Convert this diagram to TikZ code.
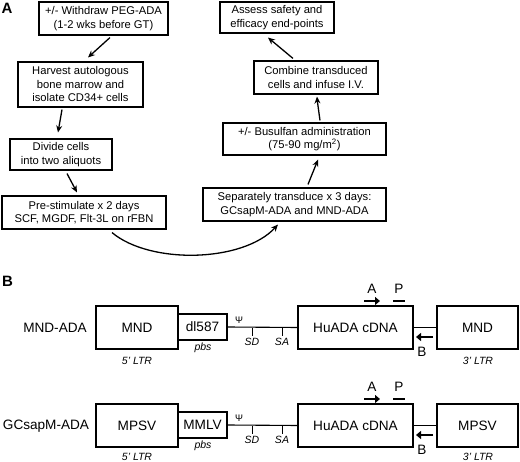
\documentclass[tikz,border=0pt]{standalone}
\usepackage{fontspec}
\setmainfont{Liberation Sans}
\usetikzlibrary{arrows.meta,calc}
\tikzset{
  box/.style={draw, line width=1.1pt, align=center, inner sep=0pt, font=\fontsize{11.2}{13.5}\selectfont},
  gbox/.style={draw, line width=1.1pt, inner sep=0pt, font=\fontsize{13.6}{16}\selectfont},
  flow/.style={line width=1.3pt, -{Stealth[length=7pt,width=6pt]}},
  dna/.style={line width=1.1pt},
  small/.style={font=\itshape\fontsize{10.5}{12}\selectfont, inner sep=0pt},
  primer/.style={line width=2.4pt, -{Triangle[length=5pt,width=8pt]}},
  lbl/.style={font=\fontsize{13.6}{16}\selectfont, inner sep=0pt},
  panel/.style={font=\bfseries\fontsize{15}{18}\selectfont, inner sep=0pt}
}
\begin{document}
\begin{tikzpicture}[x=1pt,y=-1pt]
\useasboundingbox (0,0) rectangle (520,462);
% Panel A
\node[panel] (pa) at (7,8) {A};
\node[box, minimum width=129pt, minimum height=33pt] (b1) at (103.5,18.5) {+/- Withdraw PEG-ADA\\(1-2 wks before GT)};
\node[box, minimum width=125pt, minimum height=45pt] (b2) at (80.5,84.5) {Harvest autologous\\bone marrow and\\isolate CD34+ cells};
\node[box, minimum width=102pt, minimum height=31pt] (b3) at (61,154.5) {Divide cells\\into two aliquots};
\node[box, minimum width=164pt, minimum height=33pt] (b4) at (84,212.5) {Pre-stimulate x 2 days\\SCF, MGDF, Flt-3L on rFBN};
\node[box, minimum width=183pt, minimum height=33pt] (b5) at (294.5,204.5) {Separately transduce x 3 days:\\GCsapM-ADA and MND-ADA};
\node[box, minimum width=163pt, minimum height=32pt] (b6) at (304.5,139) {+/- Busulfan administration\\(75-90 mg/m$^{\mathrm{2}}$)};
\node[box, minimum width=124pt, minimum height=33pt] (b7) at (316,77.5) {Combine transduced\\cells and infuse I.V.};
\node[box, minimum width=114pt, minimum height=31pt] (b8) at (277,17.5) {Assess safety and\\efficacy end-points};

\draw[flow] ([shift={(6.5,2)}]b1.south) -- ([shift={(7.5,-4)}]b2.north);
\draw[flow] ([shift={(-18.5,2)}]b2.south) -- ([shift={(-3,-6)}]b3.north);
\draw[flow] ([shift={(6,3)}]b3.south) -- ([shift={(-7,-3)}]b4.north);
\draw[flow] ([shift={(28,3)}]b4.south) .. controls +(38,32) and +(-35,38) .. ([shift={(-16.5,3)}]b5.south);
\draw[flow] ([shift={(13.5,-3)}]b5.north) -- ([shift={(13.5,4)}]b6.south);
\draw[flow] ([shift={(15.5,-2)}]b6.north) .. controls +(-2,-10) .. ([shift={(1,2)}]b7.south);
\draw[flow] ([shift={(-23,-2)}]b7.north) -- ([shift={(-9,4)}]b8.south);

% Panel B
\node[panel] (pb) at (7.5,281) {B};
\foreach \row/\name/\ltr/\pbs/\off/\loff in {1/MND-ADA/MND/dl587/0/0, 2/GCsapM-ADA/MPSV/MMLV/98/-2}{
  \node[lbl] (lab\row) at ({\row==1 ? 55 : 46},328+\off) {\name};
  \node[gbox, minimum width=82pt, minimum height=43pt] (l\row) at (137,327.5+\off) {\ltr};
  \node[gbox, minimum width=49pt, minimum height=26pt] (p\row) at (202.5,327+\off) {\pbs};
  \node[gbox, minimum width=115pt, minimum height=43pt] (h\row) at (355.5,327.5+\off) {HuADA cDNA};
  \node[gbox, minimum width=81pt, minimum height=43pt] (r\row) at (477.5,327.5+\off) {\ltr};
  \draw[dna] (p\row.east) -- (h\row.west);
  \draw[dna] (h\row.east) -- (r\row.west);
  \node[small] (pbs\row) at (203,348+\off) {pbs};
  \node[small] (ltl\row) at (137,361+\off+\loff) {5' LTR};
  \node[small] (ltr\row) at (478,361+\off+\loff) {3' LTR};
  \node[font=\fontsize{9.5}{11}\selectfont, inner sep=0pt] (psi\row) at (239,320+\off) {Ψ};
  \coordinate (sd\row) at (252,328+\off);
  \coordinate (sa\row) at (282,328+\off);
  \draw[line width=0.8pt] (sd\row) -- ++(0,8) node[small, below=1.5pt] (sdl\row) {SD};
  \draw[line width=0.8pt] (sa\row) -- ++(0,8) node[small, below=1.5pt] (sal\row) {SA};
  \coordinate (a0\row) at (364,301+\off);
  \coordinate (a1\row) at (380,301+\off);
  \draw[primer] (a0\row) -- (a1\row);
  \node[lbl] (al\row) at (372,289+\off) {A};
  \coordinate (pp0\row) at (393,301+\off);
  \coordinate (pp1\row) at (405,301+\off);
  \draw[line width=2.6pt] (pp0\row) -- (pp1\row);
  \node[lbl] (pl\row) at (399,289+\off) {P};
  \coordinate (bb0\row) at (433,337+\off);
  \coordinate (bb1\row) at (416,337+\off);
  \draw[primer] (bb0\row) -- (bb1\row);
  \node[lbl] (bl\row) at (422,352+\off) {B};
}
\end{tikzpicture}
\end{document}
